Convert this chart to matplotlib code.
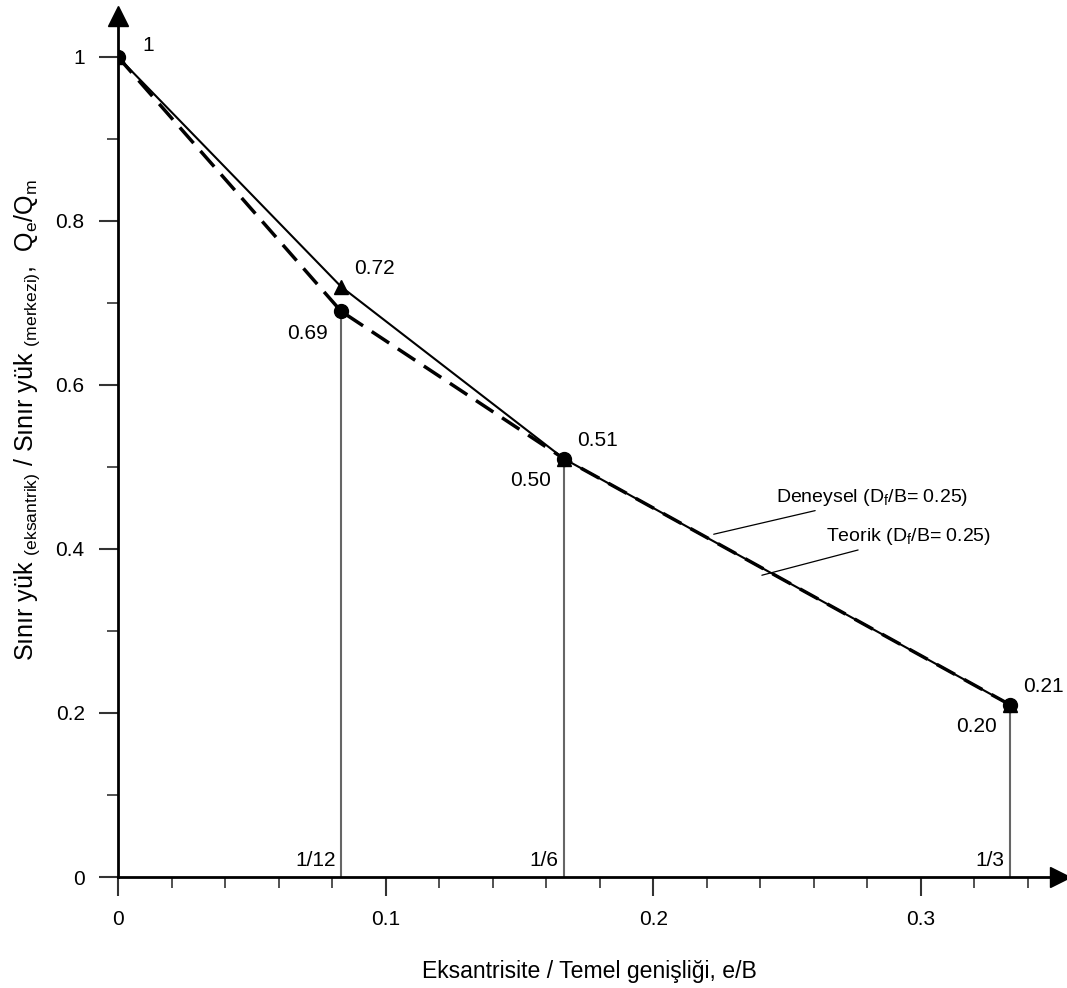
import numpy as np
import matplotlib.pyplot as plt
from matplotlib.ticker import MultipleLocator

plt.rcParams['font.family'] = ['Liberation Sans', 'DejaVu Sans']
plt.rcParams['mathtext.fontset'] = 'custom'
plt.rcParams['mathtext.rm'] = 'Liberation Sans'
plt.rcParams['mathtext.it'] = 'Liberation Sans:italic'

# e/B values
eb = [0, 1/12, 1/6, 1/3]
eb_labels = ['', '1/12', '1/6', '1/3']
# experimental (solid, triangles) and theoretical (dashed, circles)
deneysel = [1.0, 0.72, 0.51, 0.21]
teorik = [1.0, 0.69, 0.51, 0.21]
deneysel_txt = ['1', '0.72', '0.51', '0.21']
teorik_txt = ['', '0.69', '0.50', '0.20']

fig = plt.figure(figsize=(10.67, 9.88), dpi=100)
ax = fig.add_axes([118/1067, 111/988, 942/1067, 861/988])
ax.set_xlim(0, 0.352)
ax.set_ylim(0, 1.05)

for s in ['top', 'right']:
    ax.spines[s].set_visible(False)
for s in ['left', 'bottom']:
    ax.spines[s].set_linewidth(2)
    ax.spines[s].set_color('black')

# arrow heads
ax.plot(1, 0, '>', color='black', ms=14, transform=ax.get_yaxis_transform(), clip_on=False)
ax.plot(0, 1, '^', color='black', ms=14, transform=ax.get_xaxis_transform(), clip_on=False)

ax.xaxis.set_minor_locator(MultipleLocator(0.02))
ax.yaxis.set_minor_locator(MultipleLocator(0.1))
ax.set_xticks([0, 0.1, 0.2, 0.3])
ax.set_xticklabels(['0', '0.1', '0.2', '0.3'])
ax.set_yticks([0, 0.2, 0.4, 0.6, 0.8, 1.0])
ax.set_yticklabels(['0', '0.2', '0.4', '0.6', '0.8', '1'])
ax.tick_params(which='major', length=14, width=1.5, color='#333333', labelsize=15, pad=10)
ax.tick_params(which='minor', length=8, width=1.2, color='#333333')

# vertical reference lines
for x, y in zip(eb[1:], teorik[1:]):
    ax.plot([x, x], [0, y], color='#666666', lw=1.5, zorder=2)

ax.plot(eb, teorik, color='black', lw=2.5, dashes=(6, 3), zorder=3)
ax.plot(eb, deneysel, color='black', lw=1.5, zorder=3)
ax.plot(eb, deneysel, '^', color='black', ms=10, zorder=4)
ax.plot(eb, teorik, 'o', color='black', ms=10, zorder=5)

fs = 15
ax.text(eb[0] + 0.009, deneysel[0] + 0.014, deneysel_txt[0], fontsize=fs, ha='left', va='center')
for x, y, t in zip(eb[1:], deneysel[1:], deneysel_txt[1:]):
    ax.text(x + 0.005, y + 0.022, t, fontsize=fs, ha='left', va='center')
for x, y, t in zip(eb[1:], teorik[1:], teorik_txt[1:]):
    ax.text(x - 0.005, y - 0.027, t, fontsize=fs, ha='right', va='center')
for x, t in zip(eb[1:], eb_labels[1:]):
    ax.text(x - 0.002, 0.02, t, fontsize=fs, ha='right', va='center')

# leader annotations
ax.annotate('Deneysel (D$_{\\mathrm{f}}$/B= 0.25)', xy=(0.2226, 0.418), xytext=(0.2459, 0.463),
            fontsize=14, ha='left', va='center',
            arrowprops=dict(arrowstyle='-', color='black', lw=0.9, shrinkA=0, shrinkB=0))
ax.annotate('Teorik (D$_{\\mathrm{f}}$/B= 0.25)', xy=(0.2406, 0.368), xytext=(0.2646, 0.415),
            fontsize=14, ha='left', va='center',
            arrowprops=dict(arrowstyle='-', color='black', lw=0.9, shrinkA=0, shrinkB=0))

ax.set_xlabel('Eksantrisite / Temel genişliği, e/B', fontsize=16.6, labelpad=22)
ax.set_ylabel('Sınır yük $_{\\mathrm{(eksantrik)}}$ / Sınır yük $_{\\mathrm{(merkezi)}}$,  Q$_{\\mathrm{e}}$/Q$_{\\mathrm{m}}$',
              fontsize=18)
ax.yaxis.set_label_coords(-0.081, 0.53)

fig.savefig('out.png', dpi=100)
